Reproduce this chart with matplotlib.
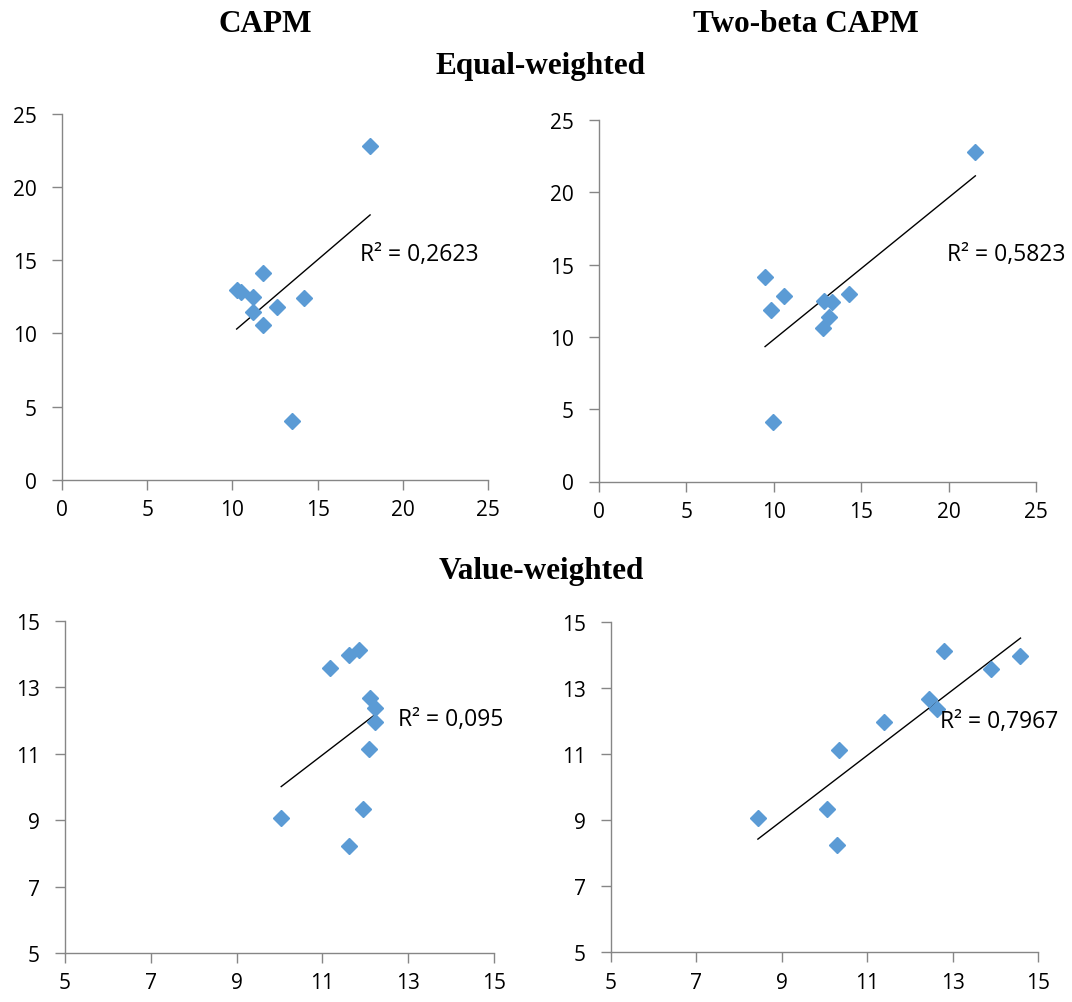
import numpy as np
import matplotlib
matplotlib.use("Agg")
import matplotlib.pyplot as plt

# equal-weighted, CAPM
ew_capm_x = [18.08, 11.78, 10.25, 10.50, 11.23, 14.20, 12.64, 11.19, 11.81, 13.52]
ew_capm_y = [22.78, 14.13, 12.99, 12.85, 12.51, 12.42, 11.83, 11.45, 10.60, 4.05]
# equal-weighted, two-beta CAPM
ew_two_x = [21.53, 9.50, 10.57, 9.82, 12.87, 13.33, 14.28, 13.18, 12.80, 9.95]
ew_two_y = [22.77, 14.12, 12.85, 11.86, 12.50, 12.41, 12.97, 11.36, 10.59, 4.09]
# value-weighted, CAPM
vw_capm_x = [11.18, 11.61, 11.86, 12.11, 12.23, 12.22, 12.09, 11.95, 10.04, 11.61]
vw_capm_y = [13.58, 13.98, 14.11, 12.67, 12.37, 11.94, 11.14, 9.34, 9.06, 8.23]
# value-weighted, two-beta CAPM
vw_two_x = [12.81, 14.59, 13.89, 12.45, 12.63, 11.39, 10.35, 10.06, 10.30, 8.44]
vw_two_y = [14.10, 13.96, 13.57, 12.66, 12.36, 11.96, 11.13, 9.33, 8.25, 9.06]

r2_labels = ['R² = 0,2623', 'R² = 0,5823', 'R² = 0,095', 'R² = 0,7967']
r2_pos = [(17.49, 15.43), (19.89, 15.73), (12.77, 12.05), (12.70, 12.0)]

top_ticks = [0, 5, 10, 15, 20, 25]
bot_ticks = [5, 7, 9, 11, 13, 15]

W, H = 1072, 1003
fig = plt.figure(figsize=(W / 100, H / 100), dpi=100)

def box(x0, x1, y0, y1):
    return [x0 / W, 1 - y1 / H, (x1 - x0) / W, (y1 - y0) / H]

axes = [
    fig.add_axes(box(62, 488, 114.7, 481)),
    fig.add_axes(box(599, 1036, 121, 482.5)),
    fig.add_axes(box(65, 494, 621.7, 954)),
    fig.add_axes(box(611, 1038, 622.7, 953.3)),
]
data = [(ew_capm_x, ew_capm_y), (ew_two_x, ew_two_y),
        (vw_capm_x, vw_capm_y), (vw_two_x, vw_two_y)]

for i, (ax, (xs, ys)) in enumerate(zip(axes, data)):
    ticks = top_ticks if i < 2 else bot_ticks
    ax.plot(xs, ys, linestyle='none', marker='D', markersize=8,
            color='#5B9BD5', zorder=3)
    k, b = np.polyfit(xs, ys, 1)
    xl = np.array([min(xs), max(xs)])
    ax.plot(xl, k * xl + b, color='black', lw=1, zorder=2)
    tx, ty = r2_pos[i]
    ax.text(tx, ty, r2_labels[i], fontsize=16.5, family='Open Sans',
            va='center', ha='left', zorder=4)
    ax.set_xlim(ticks[0], ticks[-1])
    ax.set_ylim(ticks[0], ticks[-1])
    ax.set_xticks(ticks)
    ax.set_yticks(ticks)
    for s in ['top', 'right']:
        ax.spines[s].set_visible(False)
    for s in ['left', 'bottom']:
        ax.spines[s].set_color('#868686')
        ax.spines[s].set_linewidth(1)
    ax.tick_params(direction='out', length=7, color='#868686', width=1,
                   labelsize=15)
    ax.tick_params(axis='y', pad=11)
    ax.tick_params(axis='x', pad=7)
    for lab in ax.get_xticklabels() + ax.get_yticklabels():
        lab.set_family('Open Sans')
    ax.patch.set_alpha(0)

title_kw = dict(family='Liberation Serif', weight='bold', fontsize=22.5,
                ha='center', va='center')
fig.text(265 / W, 1 - 25 / H, 'CAPM', **title_kw)
fig.text(806 / W, 1 - 25 / H, 'Two-beta CAPM', **title_kw)
fig.text(540 / W, 1 - 67 / H, 'Equal-weighted', **title_kw)
fig.text(541 / W, 1 - 572 / H, 'Value-weighted', **title_kw)

fig.savefig('out.png', dpi=100)
